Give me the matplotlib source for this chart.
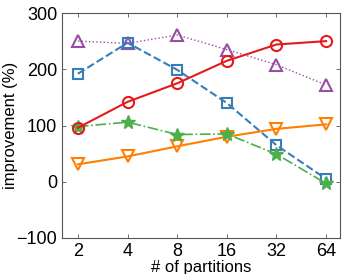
import numpy as np
import matplotlib
matplotlib.use("Agg")
import matplotlib.pyplot as plt

plt.rcParams['font.family'] = ['Liberation Sans', 'DejaVu Sans']

partitions = ['2', '4', '8', '16', '32', '64']
red_vals = [96, 142, 175, 215, 244, 250]
blue_vals = [192, 247, 199, 140, 65, 5]
purple_vals = [250, 246, 261, 235, 208, 172]
green_vals = [98, 106, 84, 85, 49, -3]
orange_vals = [31, 45, 63, 80, 94, 102]

x = np.arange(len(partitions))

fig = plt.figure(figsize=(3.44, 2.74), dpi=100)
ax = fig.add_axes([62 / 344, 1 - 238 / 274, (340 - 62) / 344, (238 - 13) / 274])

ax.plot(x, purple_vals, ':', color='#984ea3', lw=1.0, marker='^', ms=9,
        mfc='none', mec='#984ea3', mew=1.5)
ax.plot(x, blue_vals, '--', color='#377eb8', lw=1.5, marker='s', ms=7,
        mfc='none', mec='#377eb8', mew=1.5)
ax.plot(x, orange_vals, '-', color='#ff7f00', lw=1.5, marker='v', ms=9,
        mfc='none', mec='#ff7f00', mew=1.5)
ax.plot(x, green_vals, '-.', color='#4daf4a', lw=1.2, marker='*', ms=10,
        mfc='#4daf4a', mec='#4daf4a', mew=1.0)
ax.plot(x, red_vals, '-', color='#e41a1c', lw=1.5, marker='o', ms=8,
        mfc='none', mec='#e41a1c', mew=1.5)

ax.set_xlim(-0.32, 5.28)
ax.set_ylim(-100, 300)
ax.set_xticks(x)
ax.set_xticklabels(partitions)
ax.set_yticks([-100, 0, 100, 200, 300])
ax.tick_params(direction='in', top=True, right=True, labelsize=13, length=3,
               width=0.6, color='#555555')
ax.set_xlabel('# of partitions', fontsize=12, labelpad=0)
ax.set_ylabel('improvement (%)', fontsize=12, labelpad=-1)
for s in ax.spines.values():
    s.set_color('#555555')
    s.set_linewidth(0.8)

fig.savefig('out.png', dpi=100)
